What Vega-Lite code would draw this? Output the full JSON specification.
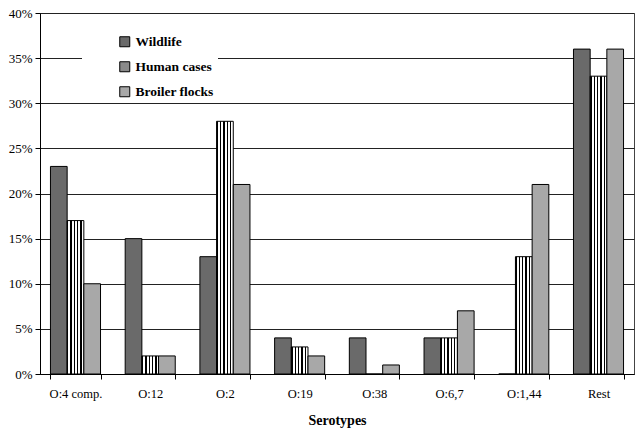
{
  "$schema": "https://vega.github.io/schema/vega-lite/v6.json",
  "width": 594,
  "height": 361,
  "autosize": "none",
  "padding": {"left": 40, "top": 13, "right": 9, "bottom": 56},
  "background": "white",
  "config": {
    "font": "Liberation Serif",
    "view": {"stroke": "#444", "strokeWidth": 1}
  },
  "data": {
    "values": [
      {"serotype": "O:4 comp.", "source": "Wildlife", "share": 0.23},
      {"serotype": "O:4 comp.", "source": "Human cases", "share": 0.17},
      {"serotype": "O:4 comp.", "source": "Broiler flocks", "share": 0.10},
      {"serotype": "O:12", "source": "Wildlife", "share": 0.15},
      {"serotype": "O:12", "source": "Human cases", "share": 0.02},
      {"serotype": "O:12", "source": "Broiler flocks", "share": 0.02},
      {"serotype": "O:2", "source": "Wildlife", "share": 0.13},
      {"serotype": "O:2", "source": "Human cases", "share": 0.28},
      {"serotype": "O:2", "source": "Broiler flocks", "share": 0.21},
      {"serotype": "O:19", "source": "Wildlife", "share": 0.04},
      {"serotype": "O:19", "source": "Human cases", "share": 0.03},
      {"serotype": "O:19", "source": "Broiler flocks", "share": 0.02},
      {"serotype": "O:38", "source": "Wildlife", "share": 0.04},
      {"serotype": "O:38", "source": "Human cases", "share": 0.0},
      {"serotype": "O:38", "source": "Broiler flocks", "share": 0.01},
      {"serotype": "O:6,7", "source": "Wildlife", "share": 0.04},
      {"serotype": "O:6,7", "source": "Human cases", "share": 0.04},
      {"serotype": "O:6,7", "source": "Broiler flocks", "share": 0.07},
      {"serotype": "O:1,44", "source": "Wildlife", "share": 0.0},
      {"serotype": "O:1,44", "source": "Human cases", "share": 0.13},
      {"serotype": "O:1,44", "source": "Broiler flocks", "share": 0.21},
      {"serotype": "Rest", "source": "Wildlife", "share": 0.36},
      {"serotype": "Rest", "source": "Human cases", "share": 0.33},
      {"serotype": "Rest", "source": "Broiler flocks", "share": 0.36}
    ]
  },
  "mark": {"type": "bar", "stroke": "black", "strokeWidth": 1},
  "encoding": {
    "x": {
      "field": "serotype",
      "type": "nominal",
      "sort": null,
      "scale": {"paddingInner": 0.33, "paddingOuter": 0.14},
      "axis": {
        "title": "Serotypes",
        "titleFont": "Liberation Serif",
        "titleFontSize": 14,
        "titleFontWeight": "bold",
        "titleColor": "black",
        "titlePadding": 14,
        "labelAngle": 0,
        "labelFontSize": 12.5,
        "labelColor": "black",
        "labelPadding": 8,
        "tickBand": "extent",
        "tickSize": 5,
        "tickColor": "black",
        "domainColor": "black"
      }
    },
    "xOffset": {
      "field": "source",
      "type": "nominal",
      "sort": ["Wildlife", "Human cases", "Broiler flocks"],
      "scale": {"paddingInner": 0, "paddingOuter": 0}
    },
    "y": {
      "field": "share",
      "type": "quantitative",
      "scale": {"domain": [0, 0.4], "nice": false},
      "axis": {
        "title": null,
        "format": ".0%",
        "values": [0, 0.05, 0.1, 0.15, 0.2, 0.25, 0.3, 0.35, 0.4],
        "labelFontSize": 13,
        "labelColor": "black",
        "labelPadding": 3,
        "tickSize": 5,
        "tickColor": "black",
        "domainColor": "black",
        "grid": true,
        "gridColor": "#222",
        "gridOpacity": 1,
        "gridWidth": 1
      }
    },
    "fill": {
      "condition": {
        "test": "datum.source === 'Human cases'",
        "value": {"gradient": "linear", "x1": 0, "y1": 0, "x2": 1, "y2": 0, "stops": [
          {"offset": 0, "color": "black"}, {"offset": 0.08, "color": "black"},
          {"offset": 0.08, "color": "white"}, {"offset": 0.2, "color": "white"},
          {"offset": 0.2, "color": "black"}, {"offset": 0.28, "color": "black"},
          {"offset": 0.28, "color": "white"}, {"offset": 0.4, "color": "white"},
          {"offset": 0.4, "color": "black"}, {"offset": 0.48, "color": "black"},
          {"offset": 0.48, "color": "white"}, {"offset": 0.6, "color": "white"},
          {"offset": 0.6, "color": "black"}, {"offset": 0.68, "color": "black"},
          {"offset": 0.68, "color": "white"}, {"offset": 0.8, "color": "white"},
          {"offset": 0.8, "color": "black"}, {"offset": 0.88, "color": "black"},
          {"offset": 0.88, "color": "white"}, {"offset": 1, "color": "white"}
        ]}
      },
      "field": "source",
      "type": "nominal",
      "sort": ["Wildlife", "Human cases", "Broiler flocks"],
      "scale": {
        "domain": ["Wildlife", "Human cases", "Broiler flocks"],
        "range": ["#6a6a6a", "#8a8a8a", "#a8a8a8"]
      },
      "legend": {
        "title": null,
        "orient": "none",
        "legendX": 42,
        "legendY": 18,
        "fillColor": "white",
        "padding": 4,
        "symbolType": "square",
        "symbolSize": 100,
        "symbolStrokeColor": "black",
        "symbolStrokeWidth": 1,
        "symbolOffset": 32,
        "labelFont": "Liberation Serif",
        "labelFontSize": 13.5,
        "labelFontWeight": "bold",
        "labelColor": "black",
        "labelOffset": 4,
        "rowPadding": 10
      }
    }
  }
}
